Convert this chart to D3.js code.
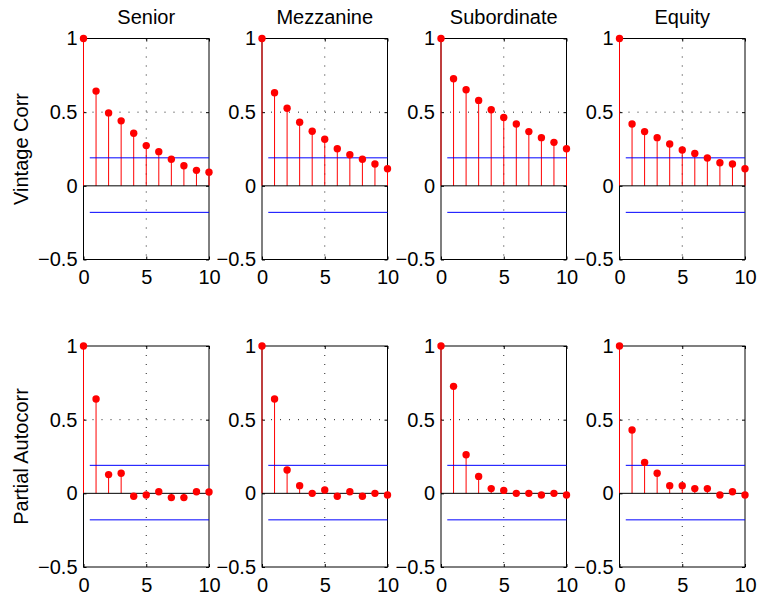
<!DOCTYPE html>
<html>
<head>
<meta charset="utf-8">
<script src="https://cdn.jsdelivr.net/npm/d3@7"></script>
<style>
  html, body { margin: 0; padding: 0; background: #fff; }
  svg { display: block; font-family: "Liberation Sans", Arial, sans-serif; }
</style>
</head>
<body>
<div id="chart"></div>
<script>
// ---- data ----
const categories = ["Senior", "Mezzanine", "Subordinate", "Equity"];
const rowLabels = ["Vintage Corr", "Partial Autocorr"];
const lags = [0, 1, 2, 3, 4, 5, 6, 7, 8, 9, 10];

const acfSenior      = [1, 0.643, 0.495, 0.441, 0.357, 0.273, 0.232, 0.180, 0.136, 0.105, 0.093];
const acfMezzanine   = [1, 0.632, 0.527, 0.432, 0.370, 0.316, 0.252, 0.211, 0.180, 0.148, 0.116];
const acfSubordinate = [1, 0.727, 0.652, 0.580, 0.516, 0.464, 0.420, 0.368, 0.327, 0.295, 0.252];
const acfEquity      = [1, 0.420, 0.368, 0.327, 0.284, 0.243, 0.220, 0.189, 0.157, 0.148, 0.116];

const pacfSenior      = [1, 0.640, 0.127, 0.136, -0.020, -0.011, 0.011, -0.029, -0.029, 0.011, 0.009];
const pacfMezzanine   = [1, 0.640, 0.158, 0.052, 0.000, 0.023, -0.020, 0.011, -0.020, 0.000, -0.011];
const pacfSubordinate = [1, 0.726, 0.262, 0.115, 0.032, 0.020, 0.000, 0.000, -0.011, 0.000, -0.011];
const pacfEquity      = [1, 0.430, 0.210, 0.136, 0.052, 0.052, 0.032, 0.032, -0.011, 0.011, -0.011];

const confBounds = [0.19, -0.18];   // upper / lower significance bounds
const boundStart = 0.5;             // bounds drawn from lag 0.5 to 10

const xTicks = [0, 5, 10];
const yTicks = [-0.5, 0, 0.5, 1];
const xDomain = [0, 10];
const yDomain = [-0.5, 1];

const rows = [
  [acfSenior, acfMezzanine, acfSubordinate, acfEquity],
  [pacfSenior, pacfMezzanine, pacfSubordinate, pacfEquity]
];

// ---- layout ----
const W = 758, H = 599;
const colLeft = [83.5, 262, 441, 619.5];
const panelW = 125.5;
const rowTop = [38.5, 346];
const panelH = 221;
const fontSize = 20;

const svg = d3.select("#chart").append("svg")
  .attr("width", W).attr("height", H);

const fmt = d => (d === 0 ? "0" : d3.format("~g")(d));

rows.forEach((series, r) => {
  series.forEach((vals, c) => {
    const x = d3.scaleLinear().domain(xDomain).range([0, panelW]);
    const y = d3.scaleLinear().domain(yDomain).range([panelH, 0]);
    const g = svg.append("g").attr("transform", `translate(${colLeft[c]},${rowTop[r]})`);

    // grid (dotted) at interior ticks
    g.selectAll(".gx").data(xTicks.filter(t => t > xDomain[0] && t < xDomain[1]))
      .enter().append("line")
      .attr("x1", d => x(d)).attr("x2", d => x(d))
      .attr("y1", 0).attr("y2", panelH)
      .attr("stroke", "#222").attr("stroke-width", 1)
      .attr("stroke-dasharray", "1,8");
    g.selectAll(".gy").data(yTicks.filter(t => t > yDomain[0] && t < yDomain[1] && t !== 0))
      .enter().append("line")
      .attr("x1", 0).attr("x2", panelW)
      .attr("y1", d => y(d)).attr("y2", d => y(d))
      .attr("stroke", "#222").attr("stroke-width", 1)
      .attr("stroke-dasharray", "1,8");

    // box
    g.append("rect").attr("x", 0).attr("y", 0)
      .attr("width", panelW).attr("height", panelH)
      .attr("fill", "none").attr("stroke", "#000").attr("stroke-width", 1);

    // axes (ticks inward)
    const ax = g.append("g").attr("transform", `translate(0,${panelH})`)
      .call(d3.axisBottom(x).tickValues(xTicks).tickFormat(fmt).tickSizeInner(-3).tickSizeOuter(0).tickPadding(10.5));
    const ay = g.append("g")
      .call(d3.axisLeft(y).tickValues(yTicks).tickFormat(fmt).tickSizeInner(-3).tickSizeOuter(0).tickPadding(6));
    [ax, ay].forEach(a => {
      a.select(".domain").remove();
      a.selectAll("text").attr("font-size", fontSize).attr("fill", "#000")
        .attr("font-family", "Liberation Sans, Arial, sans-serif");
      a.selectAll(".tick line").attr("stroke", "#000");
    });
    // mirrored ticks on top / right
    g.append("g").call(d3.axisTop(x).tickValues(xTicks).tickFormat("").tickSizeInner(-3).tickSizeOuter(0))
      .select(".domain").remove();
    g.append("g").attr("transform", `translate(${panelW},0)`)
      .call(d3.axisRight(y).tickValues(yTicks).tickFormat("").tickSizeInner(-3).tickSizeOuter(0))
      .select(".domain").remove();

    // stems
    g.selectAll(".stem").data(vals).enter().append("line")
      .attr("x1", (d, i) => x(lags[i])).attr("x2", (d, i) => x(lags[i]))
      .attr("y1", y(0)).attr("y2", d => y(d))
      .attr("stroke", "#ff0000").attr("stroke-width", 1);

    // zero line
    g.append("line").attr("x1", x(xDomain[0])).attr("x2", x(xDomain[1]))
      .attr("y1", y(0)).attr("y2", y(0))
      .attr("stroke", "#000").attr("stroke-width", 1);

    // confidence bounds
    g.selectAll(".bound").data(confBounds).enter().append("line")
      .attr("x1", x(boundStart)).attr("x2", x(xDomain[1]))
      .attr("y1", d => y(d)).attr("y2", d => y(d))
      .attr("stroke", "#0000ff").attr("stroke-width", 1);

    // markers
    g.selectAll(".pt").data(vals).enter().append("circle")
      .attr("cx", (d, i) => x(lags[i])).attr("cy", d => y(d))
      .attr("r", 3.7).attr("fill", "#ff0000");

    // titles
    if (r === 0) {
      svg.append("text")
        .attr("x", colLeft[c] + panelW / 2).attr("y", 23.5)
        .attr("text-anchor", "middle").attr("font-size", fontSize)
        .attr("fill", "#000").text(categories[c]);
    }
    if (c === 0) {
      svg.append("text")
        .attr("transform", `translate(28,${rowTop[r] + panelH / 2}) rotate(-90)`)
        .attr("text-anchor", "middle").attr("font-size", fontSize)
        .attr("fill", "#000").text(rowLabels[r]);
    }
  });
});
</script>
</body>
</html>
